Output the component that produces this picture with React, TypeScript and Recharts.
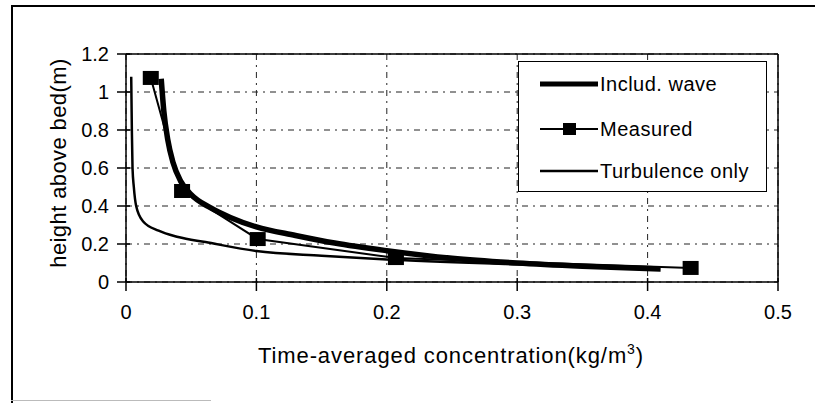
import React from 'react';
import { LineChart, Line, XAxis, YAxis, CartesianGrid, ReferenceLine, Legend } from 'recharts';

// ---- data ----
const xTicks = [0, 0.1, 0.2, 0.3, 0.4, 0.5];
const yTicks = [0, 0.2, 0.4, 0.6, 0.8, 1, 1.2];

const measuredX = [0.019, 0.043, 0.101, 0.207, 0.433];
const measuredY = [1.074, 0.479, 0.226, 0.126, 0.074];

const waveX = [0.027, 0.029, 0.032, 0.036, 0.042, 0.05, 0.065, 0.08, 0.1, 0.13, 0.16, 0.2, 0.25, 0.3, 0.35, 0.41];
const waveY = [1.07, 0.9, 0.75, 0.63, 0.53, 0.46, 0.39, 0.34, 0.29, 0.245, 0.205, 0.165, 0.125, 0.1, 0.083, 0.068];

const turbX = [0.004, 0.0045, 0.005, 0.006, 0.0078, 0.013, 0.025, 0.04, 0.061, 0.1, 0.15, 0.2, 0.3, 0.4];
const turbY = [1.08, 0.8, 0.6, 0.5, 0.4, 0.32, 0.27, 0.237, 0.21, 0.163, 0.138, 0.118, 0.093, 0.072];

const legendLabels = ['Includ. wave', 'Measured', 'Turbulence only'];
const xTitle = 'Time-averaged concentration(kg/m';
const yTitle = 'height above bed(m)';

const zip = (xs: number[], ys: number[]) => xs.map((x, i) => ({ x, y: ys[i] }));
const measuredData = zip(measuredX, measuredY);
const waveData = zip(waveX, waveY);
const turbData = zip(turbX, turbY);

const FONT = '"Liberation Sans", Arial, Helvetica, sans-serif';

const XTick = (props: any) => {
  const { x, y, payload } = props;
  return (
    <g>
      <line x1={x} x2={x} y1={y - 23} y2={y - 27} stroke="#000" strokeWidth={1.5} />
      <text x={x} y={y} dy="0.71em" textAnchor="middle" fontSize={20} fontFamily={FONT} fill="#000">
        {payload.value}
      </text>
    </g>
  );
};

const YTick = (props: any) => {
  const { x, y, payload } = props;
  return (
    <g>
      <line x1={x + 17} x2={x + 21} y1={y} y2={y} stroke="#000" strokeWidth={1.5} />
      <text x={x} y={y} dy="0.355em" textAnchor="end" fontSize={20} fontFamily={FONT} fill="#000">
        {payload.value}
      </text>
    </g>
  );
};

const XTitle = () => (
  <text x={451} y={363} textAnchor="middle" fontSize={22} fontFamily={FONT} fill="#000" letterSpacing={0.9}>
    {xTitle}
    <tspan dy={-9} fontSize={14}>3</tspan>
    <tspan dy={9}>)</tspan>
  </text>
);

const YTitle = () => (
  <text
    x={58}
    y={163}
    transform="rotate(-90 58 163)"
    textAnchor="middle"
    dy="0.355em"
    fontSize={22}
    fontFamily={FONT}
    fill="#000"
    letterSpacing={0.4}
  >
    {yTitle}
  </text>
);

const SquareDot = (props: any) => {
  const { cx, cy, index } = props;
  return <rect key={`sq-${index}`} x={cx - 8} y={cy - 7} width={16} height={14} fill="#000" />;
};

const LegendBox = () => {
  const rows = [22, 67, 109];
  return (
    <div
      style={{
        width: 249,
        height: 131,
        boxSizing: 'border-box',
        border: '1.5px solid #000',
        background: '#fff',
      }}
    >
      <svg width={246} height={128} style={{ display: 'block' }}>
        <line x1={21} x2={79} y1={rows[0]} y2={rows[0]} stroke="#000" strokeWidth={5} />
        <line x1={21} x2={79} y1={rows[1]} y2={rows[1]} stroke="#000" strokeWidth={2} />
        <rect x={44} y={rows[1] - 6} width={13} height={12} fill="#000" />
        <line x1={21} x2={79} y1={rows[2]} y2={rows[2]} stroke="#000" strokeWidth={2.5} />
        {legendLabels.map((t, i) => (
          <text key={t} x={81} y={rows[i]} dy="0.355em" fontSize={20} fontFamily={FONT} fill="#000" letterSpacing={0.5}>
            {t}
          </text>
        ))}
      </svg>
    </div>
  );
};

export default function App() {
  return (
    <div style={{ position: 'absolute', left: 0, top: 0, width: 815, height: 403, background: '#fff' }}>
      {/* outer frame of the scanned figure */}
      <div style={{ position: 'absolute', left: 11, top: 5, width: 804, height: 2, background: '#000' }} />
      <div style={{ position: 'absolute', left: 11, top: 5, width: 2, height: 398, background: '#000' }} />
      <div style={{ position: 'absolute', left: 11, top: 400, width: 200, height: 1, background: '#bbb' }} />
      <div style={{ position: 'absolute', left: 0, top: 0 }}>
        <LineChart width={815} height={403} margin={{ top: 54, right: 37, bottom: 81, left: 66 }}>
          <CartesianGrid stroke="#222" strokeWidth={1} strokeDasharray="6 5 2 5" />
          <XAxis
            dataKey="x"
            type="number"
            domain={[0, 0.5]}
            ticks={xTicks}
            height={40}
            tickSize={9}
            tickMargin={14}
            axisLine={{ stroke: '#000', strokeWidth: 1.5 }}
            tickLine={{ stroke: '#000', strokeWidth: 1.5 }}
            tick={<XTick />}
            interval={0}
            label={<XTitle />}
            allowDataOverflow
          />
          <YAxis
            dataKey="y"
            type="number"
            domain={[0, 1.2]}
            ticks={yTicks}
            width={60}
            tickSize={9}
            tickMargin={8}
            axisLine={{ stroke: '#000', strokeWidth: 1.5 }}
            tickLine={{ stroke: '#000', strokeWidth: 1.5 }}
            tick={<YTick />}
            interval={0}
            label={<YTitle />}
            allowDataOverflow
          />
          <ReferenceLine y={1.2} stroke="#000" strokeWidth={1.5} />
          <ReferenceLine x={0.5} stroke="#000" strokeWidth={1.5} />
          <Line
            data={turbData}
            dataKey="y"
            type="monotone"
            stroke="#000"
            strokeWidth={2.5}
            dot={false}
            isAnimationActive={false}
          />
          <Line
            data={measuredData}
            dataKey="y"
            type="linear"
            stroke="#000"
            strokeWidth={2}
            dot={<SquareDot />}
            activeDot={false}
            isAnimationActive={false}
          />
          <Line
            data={waveData}
            dataKey="y"
            type="monotone"
            stroke="#000"
            strokeWidth={5.5}
            dot={false}
            isAnimationActive={false}
          />
          <Legend
            layout="horizontal"
            verticalAlign="middle"
            align="center"
            content={<LegendBox />}
            wrapperStyle={{ position: 'absolute', left: 518, top: 61, width: 249, height: 131 }}
          />
        </LineChart>
      </div>
    </div>
  );
}
